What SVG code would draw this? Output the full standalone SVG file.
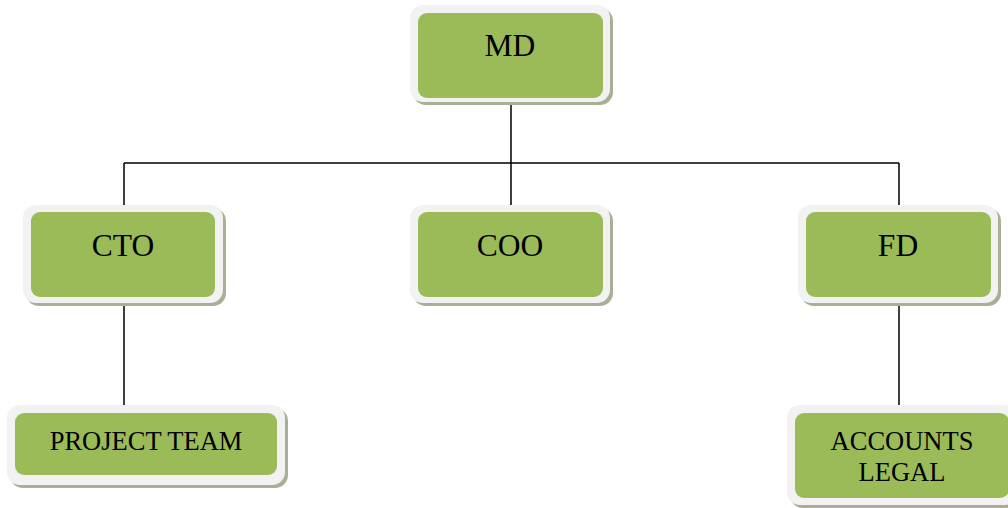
<svg xmlns="http://www.w3.org/2000/svg" width="1008" height="508" viewBox="0 0 1008 508">
<style>
.sh{fill:#a7b095}
.ow{fill:#f2f2f2}
.gr{fill:#9bbb59}
.t{font-family:"Liberation Serif","Times New Roman",serif;fill:#000;text-anchor:middle}
.big{font-size:31.5px}
.sm{font-size:26.5px}
.ln{stroke:#000;stroke-width:1.5;fill:none}
</style>
<rect width="1008" height="508" fill="#fff"/>
<g id="connectors">
<path class="ln" d="M511 104V163M124 163H899M124 163V206M511 163V206M899 163V206M124 304V408M899 304V408"/>
</g>
<g id="md">
<rect class="sh" x="413" y="8" width="200" height="97" rx="13"/>
<rect class="ow" x="410" y="5" width="200" height="97" rx="13"/>
<rect class="gr" x="418" y="13" width="185" height="85" rx="9"/>
<text class="t big" x="510" y="56">MD</text>
</g>
<g id="cto">
<rect class="sh" x="26" y="208" width="200" height="98" rx="13"/>
<rect class="ow" x="23" y="205" width="200" height="98" rx="13"/>
<rect class="gr" x="31" y="212" width="184" height="85" rx="9"/>
<text class="t big" x="123" y="256">CTO</text>
</g>
<g id="coo">
<rect class="sh" x="413" y="208" width="200" height="98" rx="13"/>
<rect class="ow" x="410" y="205" width="200" height="98" rx="13"/>
<rect class="gr" x="418" y="212" width="185" height="85" rx="9"/>
<text class="t big" x="510" y="256">COO</text>
</g>
<g id="fd">
<rect class="sh" x="801" y="208" width="200" height="98" rx="13"/>
<rect class="ow" x="798" y="205" width="200" height="98" rx="13"/>
<rect class="gr" x="806" y="212" width="185" height="85" rx="9"/>
<text class="t big" x="898" y="256">FD</text>
</g>
<g id="project-team">
<rect class="sh" x="10" y="408" width="278" height="80" rx="13"/>
<rect class="ow" x="7" y="405" width="278" height="80" rx="13"/>
<rect class="gr" x="15" y="413" width="262" height="62" rx="9"/>
<text class="t sm" x="146" y="450">PROJECT TEAM</text>
</g>
<g id="accounts-legal">
<rect class="sh" x="790" y="408" width="230" height="100" rx="13"/>
<rect class="ow" x="787" y="405" width="230" height="100" rx="13"/>
<rect class="gr" x="795" y="413" width="214" height="85" rx="9"/>
<text class="t sm" x="902" y="450">ACCOUNTS</text>
<text class="t sm" x="902" y="481">LEGAL</text>
</g>
</svg>
